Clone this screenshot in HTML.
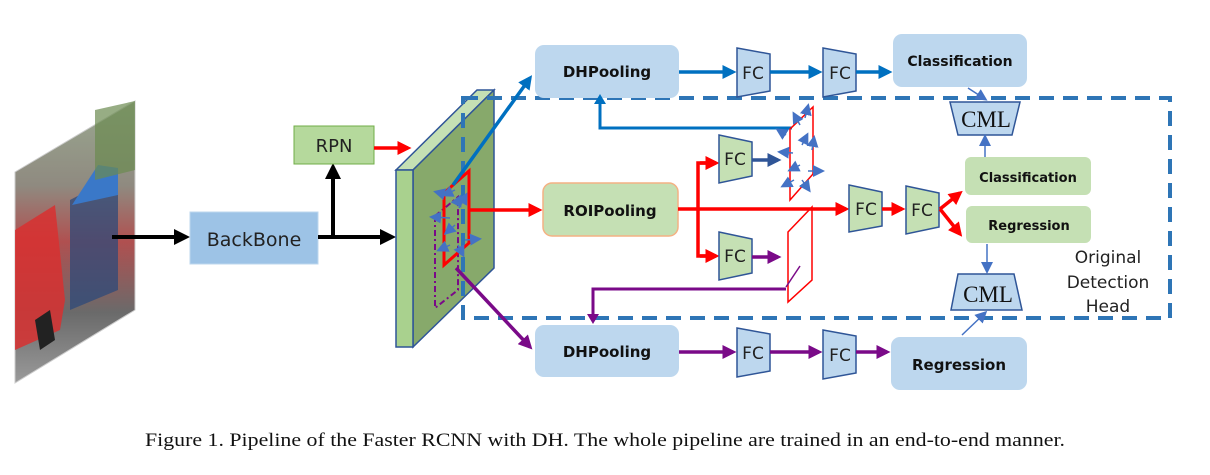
<!DOCTYPE html>
<html><head><meta charset="utf-8"><style>
html,body{margin:0;padding:0;background:#fff;}
svg{display:block;}
.t{font-family:"DejaVu Sans","Liberation Sans",sans-serif;}
.b{font-family:"DejaVu Sans","Liberation Sans",sans-serif;font-weight:bold;}
</style></head><body>
<svg width="1210" height="475" viewBox="0 0 1210 475" xmlns="http://www.w3.org/2000/svg">
<defs>
<marker id="ak" markerWidth="4" markerHeight="4" refX="3" refY="2" orient="auto" markerUnits="strokeWidth"><path d="M0,0L4,2L0,4z" fill="#000"/></marker>
<marker id="ar" markerWidth="4" markerHeight="4" refX="3" refY="2" orient="auto" markerUnits="strokeWidth"><path d="M0,0L4,2L0,4z" fill="#ff0000"/></marker>
<marker id="ab" markerWidth="4" markerHeight="4" refX="3" refY="2" orient="auto" markerUnits="strokeWidth"><path d="M0,0L4,2L0,4z" fill="#0070c0"/></marker>
<marker id="adb" markerWidth="4" markerHeight="4" refX="3" refY="2" orient="auto" markerUnits="strokeWidth"><path d="M0,0L4,2L0,4z" fill="#2f5597"/></marker>
<marker id="ap" markerWidth="4" markerHeight="4" refX="3" refY="2" orient="auto" markerUnits="strokeWidth"><path d="M0,0L4,2L0,4z" fill="#7a0a88"/></marker>
<marker id="al" markerWidth="8" markerHeight="8" refX="6" refY="4" orient="auto" markerUnits="strokeWidth"><path d="M0,0L8,4L0,8z" fill="#4472c4"/></marker>
<linearGradient id="ph" x1="0" y1="0" x2="0" y2="1">
<stop offset="0" stop-color="#9aa890"/><stop offset="0.3" stop-color="#8f8a80"/><stop offset="0.5" stop-color="#b05050"/><stop offset="0.75" stop-color="#6a6a6a"/><stop offset="1" stop-color="#9a9a9a"/></linearGradient>
</defs>

<!-- photo -->
<polygon points="15,172 135,101 135,310 15,383" fill="url(#ph)" stroke="#ccc"/>
<polygon points="15,230 55,205 65,300 60,330 15,350" fill="#d83030" opacity="0.85"/>
<polygon points="35,320 50,310 55,340 40,350" fill="#222"/>
<polygon points="70,200 118,175 118,290 70,310" fill="#2d4a7a" opacity="0.75"/>
<polygon points="72,205 98,165 118,168 118,195" fill="#3a78c8"/>
<polygon points="95,110 135,101 135,170 95,180" fill="#6b8a50" opacity="0.7"/>
<line x1="112" y1="237" x2="186" y2="237" stroke="#000" stroke-width="4" marker-end="url(#ak)"/>

<!-- BackBone -->
<rect x="190" y="212" width="128" height="52" fill="#9dc3e6" stroke="#bdd7ee"/>
<text x="254" y="246" class="t" font-size="19" text-anchor="middle" fill="#222">BackBone</text>
<line x1="318" y1="237" x2="392" y2="237" stroke="#000" stroke-width="4" marker-end="url(#ak)"/>
<line x1="333" y1="239" x2="333" y2="167" stroke="#000" stroke-width="4" marker-end="url(#ak)"/>
<rect x="294" y="126" width="80" height="38" fill="#b5d99c" stroke="#70ad47"/>
<text x="334" y="152" class="t" font-size="18" text-anchor="middle" fill="#222">RPN</text>
<line x1="374" y1="148" x2="408" y2="148" stroke="#ff0000" stroke-width="3.5" marker-end="url(#ar)"/>

<!-- slab -->
<polygon points="396,170 477,90 494,90 413,170" fill="#c5e0b4" stroke="#2f5597" stroke-width="1.5"/>
<polygon points="413,170 494,90 494,268 413,347" fill="#87a96b" stroke="#2f5597" stroke-width="1.5"/>
<rect x="396" y="170" width="17" height="177" fill="#a9d18e" stroke="#2f5597" stroke-width="1.5"/>

<!-- dashed box -->
<rect x="463" y="98" width="707" height="220" fill="none" stroke="#2e75b6" stroke-width="4" stroke-dasharray="15,9"/>

<!-- ROI on slab -->
<polygon points="435,216 458,197 458,290 435,308" fill="none" stroke="#7a0a88" stroke-width="2" stroke-dasharray="6,3,2,3"/>
<polygon points="444,193 469,171 469,243 444,265" fill="none" stroke="#ff0000" stroke-width="3"/>
<g stroke="#4472c4" stroke-width="1.5">
<line x1="455" y1="190" x2="444" y2="195" marker-end="url(#al)"/>
<line x1="448" y1="195" x2="436" y2="192" marker-end="url(#al)"/>
<line x1="450" y1="218" x2="432" y2="217" marker-end="url(#al)"/>
<line x1="459" y1="208" x2="466" y2="195" marker-end="url(#al)"/>
<line x1="465" y1="240" x2="479" y2="239" marker-end="url(#al)"/>
<line x1="455" y1="225" x2="446" y2="233" marker-end="url(#al)"/>
<line x1="450" y1="245" x2="439" y2="250" marker-end="url(#al)"/>
<line x1="458" y1="245" x2="463" y2="255" marker-end="url(#al)"/>
<line x1="456" y1="205" x2="460" y2="197" marker-end="url(#al)"/>
</g>

<line x1="453" y1="185" x2="530" y2="78" stroke="#0070c0" stroke-width="3.5" marker-end="url(#ab)"/>
<line x1="456" y1="268" x2="530" y2="347" stroke="#7a0a88" stroke-width="3.5" marker-end="url(#ap)"/>
<line x1="469" y1="210" x2="539" y2="210" stroke="#ff0000" stroke-width="3.5" marker-end="url(#ar)"/>

<!-- top row -->
<rect x="535" y="45" width="144" height="53" rx="9" fill="#bdd7ee"/>
<text x="607" y="77" class="b" font-size="15" text-anchor="middle" fill="#111">DHPooling</text>
<line x1="679" y1="72" x2="733" y2="72" stroke="#0070c0" stroke-width="3.5" marker-end="url(#ab)"/>
<polygon points="737,48 770,54 770,91 737,97" fill="#bdd7ee" stroke="#2f5597" stroke-width="1.5"/>
<text x="753" y="79" class="t" font-size="17" text-anchor="middle" fill="#222">FC</text>
<line x1="770" y1="72" x2="819" y2="72" stroke="#0070c0" stroke-width="3.5" marker-end="url(#ab)"/>
<polygon points="823,48 856,54 856,91 823,97" fill="#bdd7ee" stroke="#2f5597" stroke-width="1.5"/>
<text x="840" y="79" class="t" font-size="17" text-anchor="middle" fill="#222">FC</text>
<line x1="856" y1="72" x2="889" y2="72" stroke="#0070c0" stroke-width="3.5" marker-end="url(#ab)"/>
<rect x="893" y="34" width="134" height="53" rx="9" fill="#bdd7ee"/>
<text x="960" y="66" class="b" font-size="14" text-anchor="middle" fill="#111">Classification</text>

<!-- bottom row -->
<rect x="535" y="325" width="144" height="52" rx="9" fill="#bdd7ee"/>
<text x="607" y="357" class="b" font-size="15" text-anchor="middle" fill="#111">DHPooling</text>
<line x1="679" y1="352" x2="733" y2="352" stroke="#7a0a88" stroke-width="3.5" marker-end="url(#ap)"/>
<polygon points="737,328 770,334 770,371 737,377" fill="#bdd7ee" stroke="#2f5597" stroke-width="1.5"/>
<text x="753" y="359" class="t" font-size="17" text-anchor="middle" fill="#222">FC</text>
<line x1="770" y1="352" x2="819" y2="352" stroke="#7a0a88" stroke-width="3.5" marker-end="url(#ap)"/>
<polygon points="823,330 856,336 856,373 823,379" fill="#bdd7ee" stroke="#2f5597" stroke-width="1.5"/>
<text x="840" y="361" class="t" font-size="17" text-anchor="middle" fill="#222">FC</text>
<line x1="856" y1="352" x2="887" y2="352" stroke="#7a0a88" stroke-width="3.5" marker-end="url(#ap)"/>
<rect x="891" y="337" width="136" height="53" rx="9" fill="#bdd7ee"/>
<text x="959" y="370" class="b" font-size="15" text-anchor="middle" fill="#111">Regression</text>

<!-- ROIPooling -->
<rect x="543" y="183" width="135" height="53" rx="9" fill="#c5e0b4" stroke="#f4b183" stroke-width="1.5"/>
<text x="610" y="216" class="b" font-size="15" text-anchor="middle" fill="#111">ROIPooling</text>
<polyline points="678,209 698,209" fill="none" stroke="#ff0000" stroke-width="3.5"/>
<polyline points="715,163 698,163 698,256 715,256" fill="none" stroke="#ff0000" stroke-width="3.5"/>
<line x1="700" y1="163" x2="716" y2="163" stroke="#ff0000" stroke-width="3.5" marker-end="url(#ar)"/>
<line x1="700" y1="256" x2="716" y2="256" stroke="#ff0000" stroke-width="3.5" marker-end="url(#ar)"/>
<line x1="698" y1="209" x2="846" y2="209" stroke="#ff0000" stroke-width="3.5" marker-end="url(#ar)"/>

<polygon points="719,135 752,142 752,176 719,183" fill="#c5e0b4" stroke="#2f5597" stroke-width="1.5"/>
<text x="735" y="165" class="t" font-size="17" text-anchor="middle" fill="#222">FC</text>
<polygon points="719,232 752,239 752,273 719,280" fill="#c5e0b4" stroke="#2f5597" stroke-width="1.5"/>
<text x="735" y="262" class="t" font-size="17" text-anchor="middle" fill="#222">FC</text>
<line x1="752" y1="160" x2="778" y2="160" stroke="#2f5597" stroke-width="3.5" marker-end="url(#adb)"/>
<line x1="752" y1="257" x2="778" y2="257" stroke="#7a0a88" stroke-width="3.5" marker-end="url(#ap)"/>

<polyline points="792,128 600,128 600,101" fill="none" stroke="#0070c0" stroke-width="3"/>
<path d="M594,104 L600,94 L606,104z" fill="#0070c0"/>
<polygon points="790,129 813,107 813,174 790,200" fill="none" stroke="#ff0000" stroke-width="1.5"/>
<g stroke="#4472c4" stroke-width="1.5">
<line x1="800" y1="125" x2="794" y2="114" marker-end="url(#al)"/>
<line x1="805" y1="118" x2="808" y2="106" marker-end="url(#al)"/>
<line x1="786" y1="135" x2="778" y2="130" marker-end="url(#al)"/>
<line x1="802" y1="145" x2="807" y2="135" marker-end="url(#al)"/>
<line x1="812" y1="150" x2="814" y2="138" marker-end="url(#al)"/>
<line x1="793" y1="153" x2="780" y2="152" marker-end="url(#al)"/>
<line x1="800" y1="165" x2="790" y2="170" marker-end="url(#al)"/>
<line x1="808" y1="171" x2="822" y2="171" marker-end="url(#al)"/>
<line x1="794" y1="180" x2="783" y2="186" marker-end="url(#al)"/>
<line x1="802" y1="180" x2="809" y2="190" marker-end="url(#al)"/>
</g>
<polygon points="788,232 812,207 812,280 788,302" fill="none" stroke="#ff0000" stroke-width="1.5"/>
<line x1="800" y1="266" x2="786" y2="287" stroke="#7a0a88" stroke-width="1.5"/>
<polyline points="786,289 593,289 593,316" fill="none" stroke="#7a0a88" stroke-width="3"/>
<path d="M587,314 L593,324 L599,314z" fill="#7a0a88"/>

<!-- original head -->
<polygon points="849,185 882,192 882,226 849,232" fill="#c5e0b4" stroke="#2f5597" stroke-width="1.5"/>
<text x="866" y="215" class="t" font-size="17" text-anchor="middle" fill="#222">FC</text>
<line x1="882" y1="209" x2="902" y2="209" stroke="#ff0000" stroke-width="3.5" marker-end="url(#ar)"/>
<polygon points="906,186 939,193 939,227 906,234" fill="#c5e0b4" stroke="#2f5597" stroke-width="1.5"/>
<text x="922" y="216" class="t" font-size="17" text-anchor="middle" fill="#222">FC</text>
<line x1="940" y1="209" x2="960" y2="193" stroke="#ff0000" stroke-width="3.5" marker-end="url(#ar)"/>
<line x1="940" y1="209" x2="960" y2="234" stroke="#ff0000" stroke-width="3.5" marker-end="url(#ar)"/>
<rect x="965" y="157" width="126" height="38" rx="6" fill="#c5e0b4"/>
<text x="1028" y="182" class="b" font-size="13" text-anchor="middle" fill="#111">Classification</text>
<rect x="966" y="206" width="125" height="37" rx="6" fill="#c5e0b4"/>
<text x="1029" y="230" class="b" font-size="13" text-anchor="middle" fill="#111">Regression</text>

<!-- CML -->
<polygon points="950,102 1020,102 1012,135 958,135" fill="#bdd7ee" stroke="#2f5597" stroke-width="1.5"/>
<text x="986" y="127" font-family="Liberation Serif,serif" font-size="23" text-anchor="middle" fill="#111">CML</text>
<line x1="985" y1="157" x2="985" y2="137" stroke="#4472c4" stroke-width="1.5" marker-end="url(#al)"/>
<line x1="968" y1="88" x2="985" y2="99" stroke="#4472c4" stroke-width="1.5" marker-end="url(#al)"/>
<polygon points="958,274 1014,274 1022,310 951,310" fill="#bdd7ee" stroke="#2f5597" stroke-width="1.5"/>
<text x="988" y="302" font-family="Liberation Serif,serif" font-size="23" text-anchor="middle" fill="#111">CML</text>
<line x1="987" y1="244" x2="987" y2="271" stroke="#4472c4" stroke-width="1.5" marker-end="url(#al)"/>
<line x1="962" y1="335" x2="985" y2="313" stroke="#4472c4" stroke-width="1.5" marker-end="url(#al)"/>

<text class="t" font-size="17" text-anchor="middle" fill="#222"><tspan x="1108" y="263">Original</tspan><tspan x="1108" y="288">Detection</tspan><tspan x="1108" y="312">Head</tspan></text>

<text x="145" y="446" font-family="Liberation Serif,serif" font-size="19" textLength="920" lengthAdjust="spacingAndGlyphs" fill="#111">Figure 1. Pipeline of the Faster RCNN with DH. The whole pipeline are trained in an end-to-end manner.</text>
</svg>
</body></html>
